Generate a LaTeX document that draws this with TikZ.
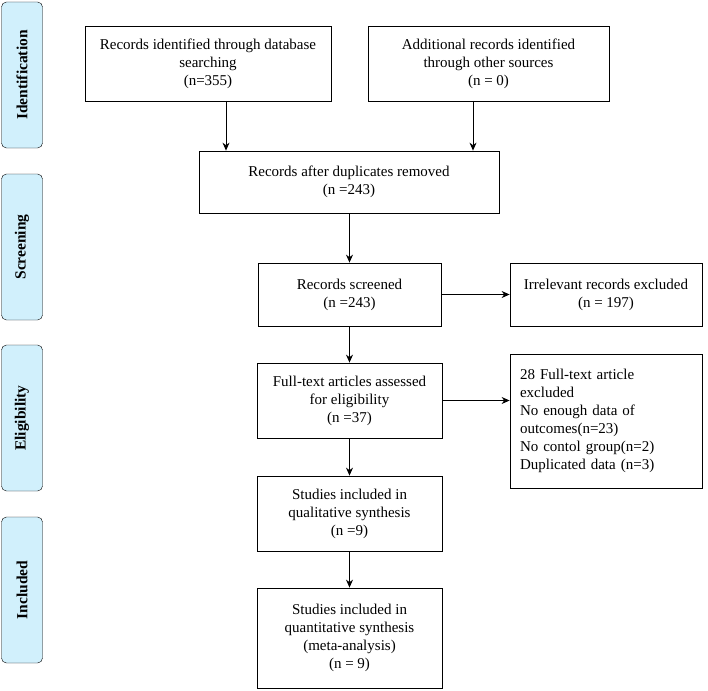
\documentclass[tikz,border=0pt]{standalone}
\usepackage{fontspec}
\setmainfont{Liberation Serif}
\usetikzlibrary{positioning, arrows.meta}
\tikzset{
    box/.style={draw, thick, align=center, font=\fontsize{15}{18}\selectfont, inner sep=2pt},
    side/.style={draw, rounded corners=5pt, fill=cyan!18, minimum width=41pt, minimum height=146pt, font=\bfseries\fontsize{15.5}{18}\selectfont},
    arr/.style={-{Stealth[length=8pt,width=7pt]}, thick}
}
\begin{document}
\begin{tikzpicture}[x=1pt, y=-1pt]
    \useasboundingbox (0,0) rectangle (708,690);

    % Stage labels
    \node[side] (ident) at (22,75) {\rotatebox{90}{Identification}};
    \node[side] (screen) at (22,247) {\rotatebox{90}{Screening}};
    \node[side] (elig) at (22,418) {\rotatebox{90}{Eligibility}};
    \node[side] (incl) at (22,590) {\rotatebox{90}{Included}};

    % Boxes
    \node[box, minimum width=246pt, minimum height=75pt] (db) at (208,63.5)
        {Records identified through database\\searching\\(n=355)};
    \node[box, minimum width=241pt, minimum height=75pt] (other) at (488.5,63.5)
        {Additional records identified\\through other sources\\(n = 0)};
    \node[box, minimum width=300pt, minimum height=62pt] (dup) at (349,182)
        {Records after duplicates removed\\(n =243)};
    \node[box, minimum width=183pt, minimum height=63pt] (scr) at (349.5,294.5)
        {Records screened\\(n =243)};
    \node[box, minimum width=192pt, minimum height=63pt] (irr) at (606,294.5)
        {Irrelevant records excluded\\(n = 197)};
    \node[box, minimum width=185pt, minimum height=75pt] (full) at (349.5,400.5)
        {Full-text articles assessed\\for eligibility\\(n =37)};
    \node[box, minimum width=192pt, minimum height=134pt, align=left, text width=172pt] (excl) at (606,421)
        {28 Full-text article\\excluded\\No enough data of\\outcomes(n=23)\\No contol group(n=2)\\Duplicated data (n=3)\\[20pt]};
    \node[box, minimum width=185pt, minimum height=75pt] (qual) at (349.5,513.5)
        {Studies included in\\qualitative synthesis\\(n =9)};
    \node[box, minimum width=185pt, minimum height=100pt] (quant) at (349.5,638)
        {Studies included in\\quantitative synthesis\\(meta-analysis)\\(n = 9)};

    % Arrows
    \coordinate (dbout) at (226,101);
    \coordinate (otherout) at (473,101);
    \draw[arr] (dbout) -- (dbout |- dup.north);
    \draw[arr] (otherout) -- (otherout |- dup.north);
    \draw[arr] (dup.south -| scr.north) -- (scr.north);
    \draw[arr] (scr.east) -- (scr.east -| irr.west);
    \draw[arr] (scr.south) -- (full.north);
    \draw[arr] (full.east) -- (full.east -| excl.west);
    \draw[arr] (full.south) -- (qual.north);
    \draw[arr] (qual.south) -- (quant.north);
\end{tikzpicture}
\end{document}
